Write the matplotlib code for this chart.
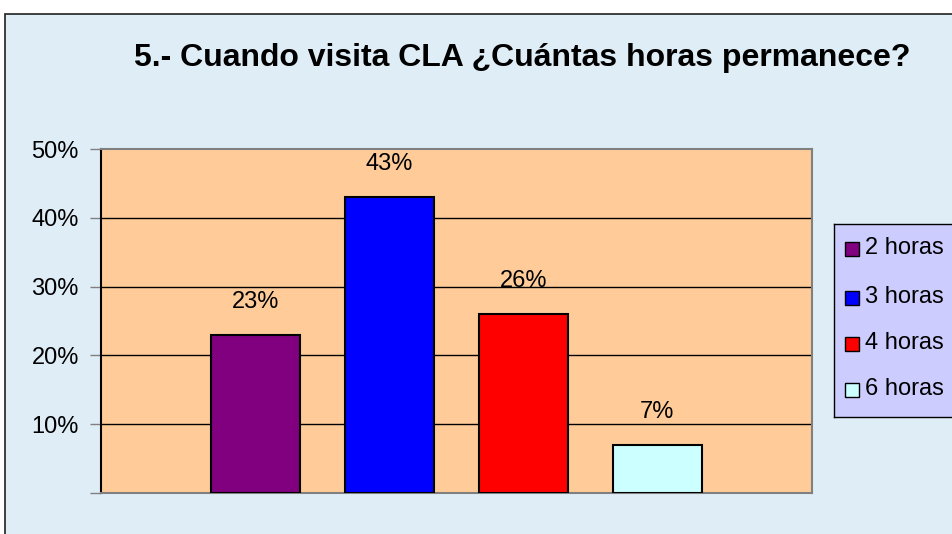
import numpy as np
import matplotlib
matplotlib.use("Agg")
import matplotlib.pyplot as plt
from matplotlib.patches import Rectangle

categories = ["2 horas", "3 horas", "4 horas", "6 horas"]
values = [23, 43, 26, 7]
colors = ["#800080", "#0000FF", "#FF0000", "#CCFFFF"]
yticks = [10, 20, 30, 40, 50]
title = "5.- Cuando visita CLA ¿Cuántas horas permanece?"

plt.rcParams["font.family"] = ["Liberation Sans", "DejaVu Sans"]

W, H = 953, 534
fig = plt.figure(figsize=(W / 100, H / 100), dpi=100)
fig.patch.set_facecolor("white")

# chart area background with border
fig.patches.append(Rectangle((5 / W, -0.01), 1, 1 - 14 / H + 0.01, transform=fig.transFigure,
                             facecolor="#DFEDF7", edgecolor="#202020", linewidth=1.2, zorder=-5))

ax = fig.add_axes([101 / W, 1 - 493 / H, (812 - 101) / W, (493 - 149) / H])
ax.set_zorder(2)
ax.set_facecolor("#FFCC99")
x = np.arange(len(values))
ax.bar(x, values, width=0.667, color=colors, edgecolor="black", linewidth=1.5, zorder=3)
for xi, v in zip(x, values):
    ax.text(xi, v + 4.8, f"{v}%", ha="center", va="center", fontsize=17, zorder=4)

ax.set_xlim(-1.157, 4.157)
ax.set_ylim(0, 50)
ax.set_yticks([0] + yticks)
ax.set_yticklabels([""] + [f"{t}%" for t in yticks], fontsize=17)
ax.set_xticks([])
ax.tick_params(axis="y", length=8, width=1, color="#808080", pad=8)
for t in yticks[:-1]:
    ax.axhline(t, color="black", linewidth=1, zorder=1)
for s in ["top", "right", "bottom"]:
    ax.spines[s].set_color("#808080")
    ax.spines[s].set_linewidth(1.5)
ax.spines["left"].set_color("black")
ax.spines["left"].set_linewidth(1.5)

fig.text(522 / W, 1 - 58 / H, title, ha="center", va="center", fontsize=23, fontweight="bold")

# legend box
lax = fig.add_axes([834 / W, 1 - 417 / H, 130 / W, (417 - 224) / H])
lax.set_zorder(3)
lax.set_facecolor("#CCCCFF")
lax.set_xticks([])
lax.set_yticks([])
for s in lax.spines.values():
    s.set_color("black")
    s.set_linewidth(1)
ys = [248, 297, 343, 389]
for lab, c, yy in zip(categories, colors, ys):
    fig.patches.append(Rectangle((845 / W, 1 - (yy + 8) / H), 14 / W, 14 / H, transform=fig.transFigure,
                                 facecolor=c, edgecolor="black", linewidth=1, zorder=6))
    fig.text(865 / W, 1 - yy / H, lab, ha="left", va="center", fontsize=17, zorder=7)

fig.savefig("out.png", dpi=100)
plt.close(fig)
